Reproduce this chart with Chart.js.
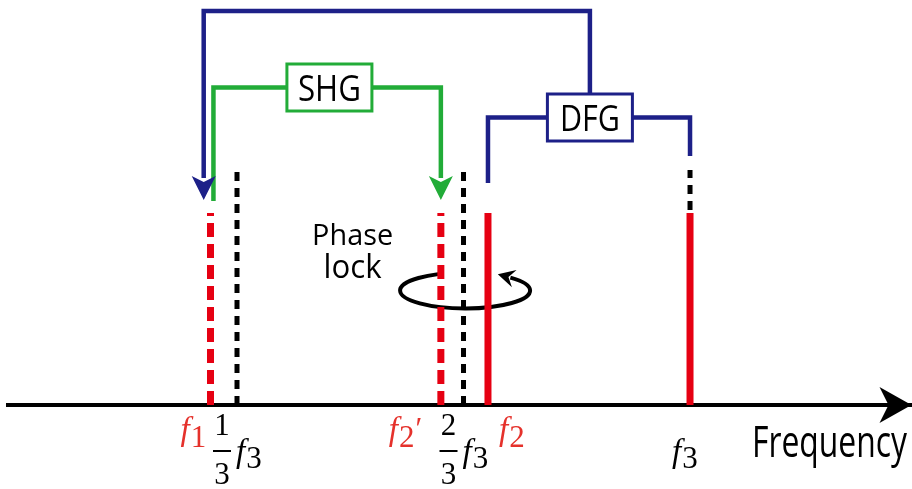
<!DOCTYPE html>
<html>
<head>
<meta charset="utf-8">
<script src="https://cdn.jsdelivr.net/npm/chart.js@4"></script>
<style>
  html, body { margin: 0; padding: 0; background: #fff; }
  canvas { display: block; }
</style>
</head>
<body>
<canvas id="spectrum" width="912" height="489"></canvas>
<script>
// frequency axis in units of f3/3, height in arbitrary units
const xRange = [-0.011, 3.98];
const yRange = [-0.84, 4.05];

// comb lines (red): f1, f2', f2, f3
const combFreqs   = [0.883, 1.90, 2.108, 3];
const combHeights = [1.92, 1.92, 1.92, 1.92];
const combDashed  = [true, true, false, false];

// reference positions f3/3, 2f3/3, f3 (black dashed)
const refFreqs = [1, 2, 3];
const refLow   = [0, 0, 1.95];
const refHigh  = [2.35, 2.35, 2.35];

const f1 = combFreqs[0], f2p = combFreqs[1], f2 = combFreqs[2], f3 = combFreqs[3];

// nonlinear conversion paths
const shgLevel  = 3.175;
const dfgLevel  = 2.875;
const feedLevel = 3.94;
const arrowEnd  = 2.27;
const boxLabels = ['SHG', 'DFG'];
const boxFreqs  = [1.408, 2.558];
const boxLevels = [shgLevel, dfgLevel];

const shgPath  = [[f1 + 0.013, 2.04], [f1 + 0.013, shgLevel], [f2p, shgLevel], [f2p, arrowEnd]];
const dfgPath  = [[f2, 2.22], [f2, dfgLevel], [f3, dfgLevel], [f3, 2.49]];
const feedPath = [[boxFreqs[1], dfgLevel], [boxFreqs[1], feedLevel], [f1 - 0.03, feedLevel], [f1 - 0.03, arrowEnd]];

// phase lock loop around f2' / f2
const lockFreq  = 2.007;
const lockLevel = 1.145;

// labels under the axis
const labelFreqs  = [0.883, 1, 1.90, 2, 2.108, 3];
const labelNums   = ['', '1', '', '2', '', ''];
const labelSubs   = ['1', '3', '2', '3', '2', '3'];
const labelPrimes = ['', '', '\u2032', '', '', ''];
const labelRed    = [true, false, true, false, true, false];

// label styling (pixel offsets from each line)
const labelDx  = [-30, -15, -52, -15, 11, -18];
const labelRow = [0, 1, 0, 1, 0, 1];

const RED = '#e60012', RED_TEXT = '#e5312b', BLUE = '#1d2088', GREEN = '#22ac38';
const SERIF = "'Liberation Serif', 'Times New Roman', serif";
const SANS = "'Open Sans', sans-serif";

const toPts = path => path.map(p => ({ x: p[0], y: p[1] }));

const datasets = [];
combFreqs.forEach((f, i) => {
    datasets.push({
        data: [{ x: f, y: 0 }, { x: f, y: combHeights[i] }],
        borderColor: RED,
        borderWidth: 7,
        borderDash: combDashed[i] ? [14, 7] : [],
        order: 1
    });
});
refFreqs.forEach((f, i) => {
    datasets.push({
        data: [{ x: f, y: refLow[i] }, { x: f, y: refHigh[i] }],
        borderColor: '#000',
        borderWidth: 5,
        borderDash: [9, 7],
        order: 1
    });
});
datasets.push({ data: toPts(shgPath), borderColor: GREEN, borderWidth: 4.5, arrowHead: true, order: 2 });
datasets.push({ data: toPts(dfgPath), borderColor: BLUE, borderWidth: 4.5, order: 2 });
datasets.push({ data: toPts(feedPath), borderColor: BLUE, borderWidth: 4.5, arrowHead: true, order: 2 });

function drawHead(ctx, tx, ty, dx, dy, len, half, notch, color) {
    const bx = tx - dx * len, by = ty - dy * len;
    const nx = -dy, ny = dx;
    ctx.beginPath();
    ctx.moveTo(tx, ty);
    ctx.lineTo(bx + nx * half, by + ny * half);
    ctx.lineTo(tx - dx * (len - notch), ty - dy * (len - notch));
    ctx.lineTo(bx - nx * half, by - ny * half);
    ctx.closePath();
    ctx.fillStyle = color;
    ctx.fill();
}

// squeeze or stretch a sans label to a given width
function fitText(ctx, text, cx, baseline, size, width) {
    ctx.font = `${size}px ${SANS}`;
    const w = ctx.measureText(text).width;
    ctx.save();
    ctx.translate(cx, baseline);
    ctx.scale(width / w, 1);
    ctx.textAlign = 'center';
    ctx.textBaseline = 'alphabetic';
    ctx.fillText(text, 0, 0);
    ctx.restore();
}

// f with subscript (and optional prime)
function drawF(ctx, x0, baseF, baseSub, sub, prime, color) {
    ctx.fillStyle = color;
    ctx.textAlign = 'left';
    ctx.textBaseline = 'alphabetic';
    ctx.font = `italic 33px ${SERIF}`;
    ctx.fillText('f', x0, baseF);
    let x = x0 + ctx.measureText('f').width + 1;
    ctx.font = `31px ${SERIF}`;
    ctx.fillText(sub, x, baseSub);
    x += ctx.measureText(sub).width;
    if (prime) {
        ctx.font = `31px ${SERIF}`;
        ctx.fillText(prime, x + 1, baseF - 1);
    }
}

const diagramPlugin = {
    id: 'diagram',
    beforeDatasetsDraw(chart) {
        const { ctx, scales: { x, y } } = chart;
        const cx = x.getPixelForValue(lockFreq), cy = y.getPixelForValue(lockLevel);
        const rx = 65, ry = 18, start = -0.8, end = 4.285;
        ctx.save();
        ctx.strokeStyle = '#000';
        ctx.lineWidth = 4;
        ctx.beginPath();
        ctx.ellipse(cx, cy, rx, ry, 0, start, end);
        ctx.stroke();
        // arrow head at the upper right end, pointing back along the loop
        let dx = rx * Math.sin(start), dy = -ry * Math.cos(start);
        const n = Math.hypot(dx, dy);
        dx /= n; dy /= n;
        const sx = cx + rx * Math.cos(start), sy = cy + ry * Math.sin(start);
        drawHead(ctx, sx + dx * 13, sy + dy * 13, dx, dy, 17, 9, 6, '#000');

        ctx.fillStyle = '#000';
        fitText(ctx, 'Phase', cx - 112.5, cy - 45.5, 29, 81);
        fitText(ctx, 'lock', cx - 112.5, cy - 12.5, 33, 58);
        ctx.restore();
    },
    afterDatasetsDraw(chart) {
        const { ctx, scales: { x, y } } = chart;
        ctx.save();
        // arrow heads on the conversion paths
        chart.data.datasets.forEach((ds, i) => {
            if (!ds.arrowHead) return;
            const pts = chart.getDatasetMeta(i).data;
            const p0 = pts[pts.length - 2], p1 = pts[pts.length - 1];
            let dx = p1.x - p0.x, dy = p1.y - p0.y;
            const n = Math.hypot(dx, dy);
            dx /= n; dy /= n;
            drawHead(ctx, p1.x + dx * 22, p1.y + dy * 22, dx, dy, 24, 12, 6, ds.borderColor);
        });
        // process boxes
        boxLabels.forEach((txt, i) => {
            const bx = x.getPixelForValue(boxFreqs[i]), by = y.getPixelForValue(boxLevels[i]);
            const color = i === 0 ? GREEN : BLUE;
            ctx.fillStyle = '#fff';
            ctx.fillRect(bx - 42.5, by - 23.5, 85, 47);
            ctx.strokeStyle = color;
            ctx.lineWidth = 3;
            ctx.strokeRect(bx - 42.5, by - 23.5, 85, 47);
            ctx.fillStyle = '#000';
            fitText(ctx, txt, bx, by + 13, 36, i === 0 ? 63 : 60);
        });
        ctx.restore();
    },
    afterDraw(chart) {
        const { ctx, chartArea, scales: { x, y } } = chart;
        const y0 = y.getPixelForValue(0);
        ctx.save();
        // frequency axis arrow
        drawHead(ctx, chartArea.right - 0.5, y0, 1, 0, 32, 18, 9, '#000');
        ctx.fillStyle = '#000';
        fitText(ctx, 'Frequency', chartArea.right - 82.5, y0 + 52, 43, 155);

        labelFreqs.forEach((f, i) => {
            const lx = x.getPixelForValue(f) + labelDx[i];
            const color = labelRed[i] ? RED_TEXT : '#000';
            if (labelNums[i]) {
                // fraction n/3 followed by f3
                ctx.fillStyle = color;
                ctx.font = `31px ${SERIF}`;
                ctx.textAlign = 'center';
                ctx.textBaseline = 'alphabetic';
                ctx.fillText(labelNums[i], lx, y0 + 30);
                ctx.fillText('3', lx, y0 + 79);
                ctx.fillRect(lx - 9, y0 + 45, 18, 2);
                drawF(ctx, lx + 14, y0 + 57, y0 + 63, labelSubs[i], labelPrimes[i], color);
            } else if (labelRow[i] === 0) {
                drawF(ctx, lx, y0 + 35, y0 + 42, labelSubs[i], labelPrimes[i], color);
            } else {
                drawF(ctx, lx, y0 + 57, y0 + 63, labelSubs[i], labelPrimes[i], color);
            }
        });
        ctx.restore();
    }
};

new Chart(document.getElementById('spectrum'), {
    type: 'line',
    data: { datasets },
    options: {
        responsive: false,
        animation: false,
        devicePixelRatio: 1,
        layout: { padding: { left: 8, right: 0, top: 0, bottom: 0 } },
        elements: {
            line: { tension: 0, fill: false, borderCapStyle: 'butt', borderJoinStyle: 'miter' },
            point: { radius: 0, hoverRadius: 0 }
        },
        scales: {
            x: {
                type: 'linear',
                min: xRange[0],
                max: xRange[1],
                position: { y: 0 },
                z: 1,
                grid: { display: false, drawTicks: false },
                border: { display: true, color: '#000', width: 4 },
                ticks: { display: false }
            },
            y: {
                type: 'linear',
                min: yRange[0],
                max: yRange[1],
                display: false
            }
        },
        plugins: {
            legend: { display: false },
            tooltip: { enabled: false }
        }
    },
    plugins: [diagramPlugin]
});
</script>
</body>
</html>
